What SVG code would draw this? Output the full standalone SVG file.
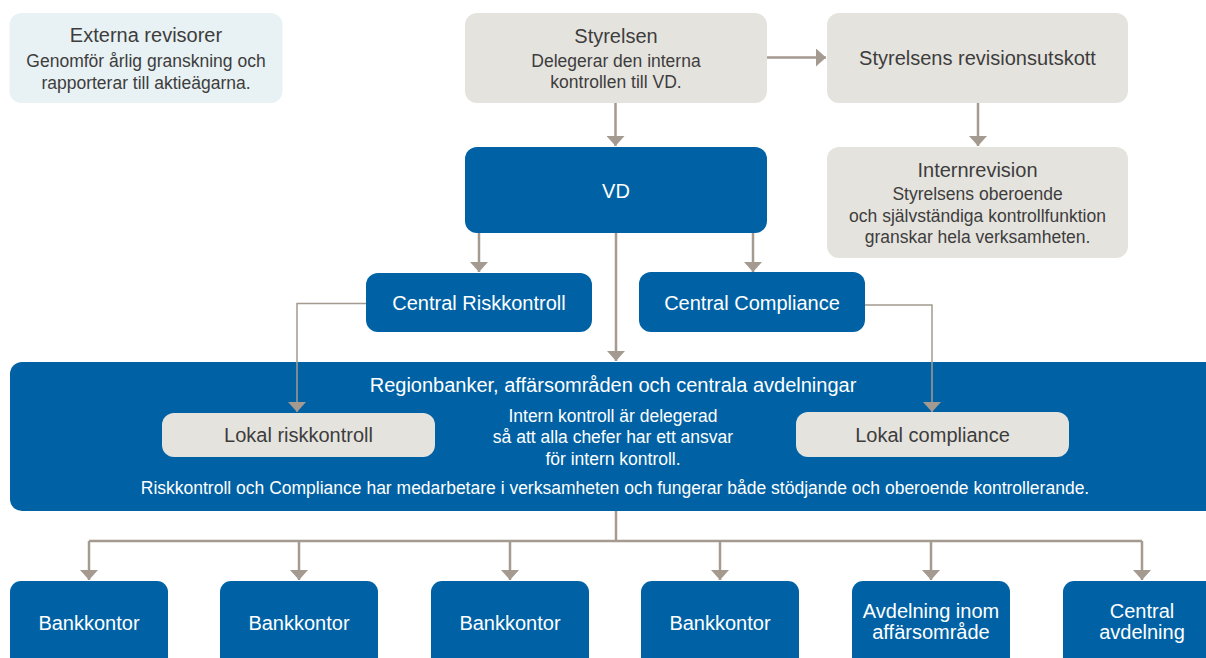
<svg xmlns="http://www.w3.org/2000/svg" width="1206" height="658" viewBox="0 0 1206 658">
<defs>
<marker id="ah" viewBox="0 0 10 18" refX="10" refY="9" markerWidth="10" markerHeight="18" markerUnits="userSpaceOnUse" orient="auto">
<path d="M0,0 L10,9 L0,18 Z" fill="#A49A8F"/>
</marker>
</defs>
<style>
.blue{fill:#0062A5}
.gray{fill:#E5E3DE}
.ext{fill:#E8F1F3}
.t{font-family:"Liberation Sans",Arial,Helvetica,sans-serif;text-anchor:middle}
.h{font-size:20px}
.s{font-size:17.5px}
.dk{fill:#3D3D3D}
.wh{fill:#FFFFFF}
.c{fill:none;stroke:#A49A8F;stroke-width:2.5}
.cth{fill:none;stroke:#A49A8F;stroke-width:1.5}
</style>
<rect width="1206" height="658" fill="#FFFFFF"/>

<g id="externa-revisorer">
<rect class="ext" x="9.5" y="13" width="273" height="90" rx="12"/>
<text class="t h dk" x="146" y="42">Externa revisorer</text>
<text class="t s dk" x="146" y="67">Genomför årlig granskning och</text>
<text class="t s dk" x="146" y="89">rapporterar till aktieägarna.</text>
</g>

<g id="styrelsen">
<rect class="gray" x="465" y="13" width="302" height="90" rx="12"/>
<text class="t h dk" x="616" y="43">Styrelsen</text>
<text class="t s dk" x="616" y="67">Delegerar den interna</text>
<text class="t s dk" x="616" y="88">kontrollen till VD.</text>
</g>

<g id="revisionsutskott">
<rect class="gray" x="827" y="13" width="301" height="90" rx="12"/>
<text class="t h dk" x="977.5" y="65">Styrelsens revisionsutskott</text>
</g>

<g id="internrevision">
<rect class="gray" x="827" y="147" width="301" height="111" rx="12"/>
<text class="t h dk" x="977.5" y="177">Internrevision</text>
<text class="t s dk" x="977.5" y="200">Styrelsens oberoende</text>
<text class="t s dk" x="977.5" y="222">och självständiga kontrollfunktion</text>
<text class="t s dk" x="977.5" y="243">granskar hela verksamheten.</text>
</g>

<g id="vd">
<rect class="blue" x="465" y="147" width="302" height="86" rx="12"/>
<text class="t h wh" x="616" y="198">VD</text>
</g>

<g id="central-riskkontroll">
<rect class="blue" x="366" y="273" width="226" height="59" rx="12"/>
<text class="t h wh" x="479" y="310">Central Riskkontroll</text>
</g>

<g id="central-compliance">
<rect class="blue" x="639" y="272" width="226" height="60" rx="12"/>
<text class="t h wh" x="752" y="310">Central Compliance</text>
</g>

<g id="regionbanker">
<rect class="blue" x="10" y="362" width="1210" height="149" rx="12"/>
<text class="t h wh" x="613" y="392">Regionbanker, affärsområden och centrala avdelningar</text>
<text class="t s wh" x="613" y="422">Intern kontroll är delegerad</text>
<text class="t s wh" x="613" y="443">så att alla chefer har ett ansvar</text>
<text class="t s wh" x="613" y="465">för intern kontroll.</text>
<text class="t s wh" x="615" y="494">Riskkontroll och Compliance har medarbetare i verksamheten och fungerar både stödjande och oberoende kontrollerande.</text>
</g>

<g id="lokal-riskkontroll">
<rect class="gray" x="162" y="413" width="273" height="44" rx="12"/>
<text class="t h dk" x="298.5" y="442">Lokal riskkontroll</text>
</g>

<g id="lokal-compliance">
<rect class="gray" x="796" y="412" width="273" height="45" rx="12"/>
<text class="t h dk" x="932.5" y="442">Lokal compliance</text>
</g>

<g id="bankkontor-1">
<rect class="blue" x="10" y="581" width="158" height="100" rx="11"/>
<text class="t h wh" x="89" y="630">Bankkontor</text>
</g>
<g id="bankkontor-2">
<rect class="blue" x="220" y="581" width="158" height="100" rx="11"/>
<text class="t h wh" x="299" y="630">Bankkontor</text>
</g>
<g id="bankkontor-3">
<rect class="blue" x="431" y="581" width="158" height="100" rx="11"/>
<text class="t h wh" x="510" y="630">Bankkontor</text>
</g>
<g id="bankkontor-4">
<rect class="blue" x="641" y="581" width="158" height="100" rx="11"/>
<text class="t h wh" x="720" y="630">Bankkontor</text>
</g>
<g id="avdelning-inom-affarsomrade">
<rect class="blue" x="852" y="581" width="158" height="100" rx="11"/>
<text class="t h wh" x="931" y="618">Avdelning inom</text>
<text class="t h wh" x="931" y="639">affärsområde</text>
</g>
<g id="central-avdelning">
<rect class="blue" x="1063" y="581" width="158" height="100" rx="11"/>
<text class="t h wh" x="1142" y="618">Central</text>
<text class="t h wh" x="1142" y="639">avdelning</text>
</g>

<g id="connectors">
<path class="c" d="M767,57.5 H826" marker-end="url(#ah)"/>
<path class="c" d="M615.5,103 V146" marker-end="url(#ah)"/>
<path class="c" d="M978,103 V146" marker-end="url(#ah)"/>
<path class="c" d="M479,233 V272" marker-end="url(#ah)"/>
<path class="c" d="M753,233 V272" marker-end="url(#ah)"/>
<path class="c" d="M616,233 V361" marker-end="url(#ah)"/>
<path class="cth" d="M366,303.5 H297 V412" marker-end="url(#ah)"/>
<path class="cth" d="M865,305 H932 V412" marker-end="url(#ah)"/>
<path class="c" d="M616,511 V541"/>
<path class="c" d="M89,541 H1142"/>
<path class="c" d="M89,541 V580" marker-end="url(#ah)"/>
<path class="c" d="M299,541 V580" marker-end="url(#ah)"/>
<path class="c" d="M510,541 V580" marker-end="url(#ah)"/>
<path class="c" d="M720,541 V580" marker-end="url(#ah)"/>
<path class="c" d="M931,541 V580" marker-end="url(#ah)"/>
<path class="c" d="M1142,541 V580" marker-end="url(#ah)"/>
</g>
</svg>
